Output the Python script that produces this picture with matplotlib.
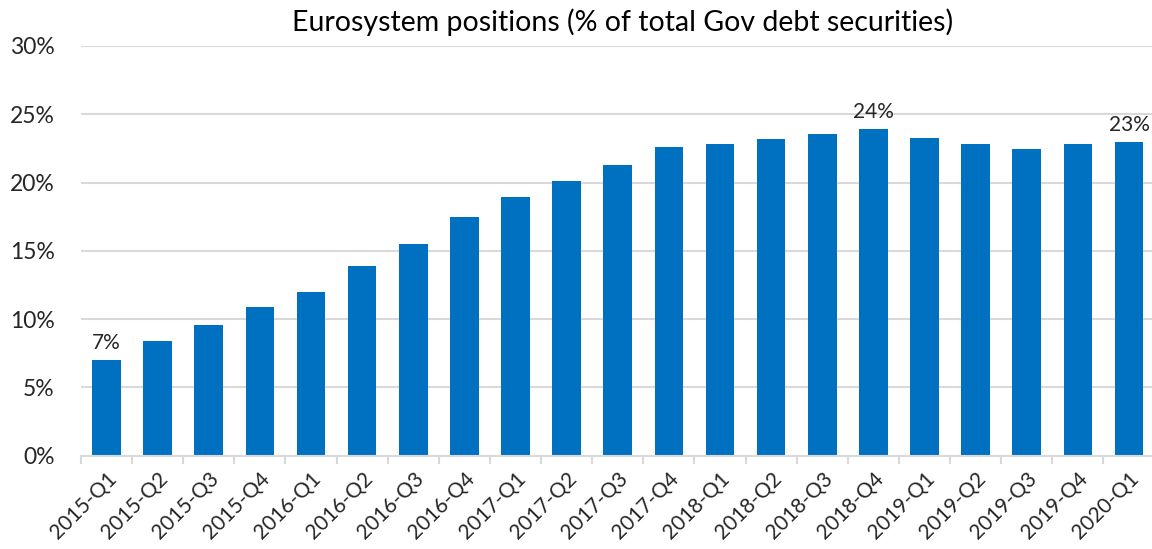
import matplotlib

matplotlib.use("Agg")
import matplotlib.pyplot as plt
import numpy as np
from matplotlib.ticker import FixedLocator, PercentFormatter

quarters = ["2015-Q1", "2015-Q2", "2015-Q3", "2015-Q4",
            "2016-Q1", "2016-Q2", "2016-Q3", "2016-Q4",
            "2017-Q1", "2017-Q2", "2017-Q3", "2017-Q4",
            "2018-Q1", "2018-Q2", "2018-Q3", "2018-Q4",
            "2019-Q1", "2019-Q2", "2019-Q3", "2019-Q4",
            "2020-Q1"]
share = [7.0, 8.4, 9.55, 10.9, 11.96, 13.9, 15.5, 17.48,
         18.96, 20.11, 21.3, 22.62, 22.8, 23.16, 23.53, 23.9,
         23.28, 22.82, 22.43, 22.8, 22.97]
labelled = {"2015-Q1": "7%", "2018-Q4": "24%", "2020-Q1": "23%"}

plt.rcParams["font.family"] = ["Lato", "DejaVu Sans"]
BLUE = "#0070C0"
GRID = "#d9d9d9"
TXT = "#262626"

fig = plt.figure(figsize=(11.52, 5.49), dpi=100)
W, H = 1152, 549
ax = fig.add_axes([81 / W, 1 - 455.7 / H, (1152 - 81) / W, (455.7 - 46) / H])

x = np.arange(len(quarters))
ax.bar(x, share, width=0.56, color=BLUE, zorder=3)
for xi, q, v in zip(x, quarters, share):
    if q in labelled:
        ax.text(xi, v + 0.5, labelled[q], ha="center", va="bottom",
                fontsize=15, color=TXT, zorder=4)

ax.set_ylim(0, 30)
ax.set_xlim(-0.5, len(quarters) - 0.55)
ax.set_yticks(range(0, 31, 5))
ax.yaxis.set_major_formatter(PercentFormatter(decimals=0))
ax.grid(axis="y", color=GRID, linewidth=1.5, zorder=0)
ax.tick_params(axis="y", length=0, labelsize=16.5, colors=TXT, pad=19)

ax.set_xticks(x)
ax.set_xticklabels(quarters, rotation=45, ha="right", rotation_mode="anchor")
ax.xaxis.set_minor_locator(FixedLocator(np.arange(-0.5, len(quarters), 1.0)))
ax.tick_params(axis="x", which="major", length=0, labelsize=15, colors=TXT, pad=9)
ax.tick_params(axis="x", which="minor", length=6, width=1.5, color=GRID)

for s in ("top", "right", "left"):
    ax.spines[s].set_visible(False)
ax.spines["bottom"].set_color(GRID)
ax.spines["bottom"].set_linewidth(1.5)
ax.spines["bottom"].set_zorder(4)

fig.text(0.540, 1 - 22 / H, "Eurosystem positions (% of total Gov debt securities)",
         ha="center", va="center", fontsize=20.5, color="black")

fig.savefig("out.png", dpi=100, facecolor="white")
